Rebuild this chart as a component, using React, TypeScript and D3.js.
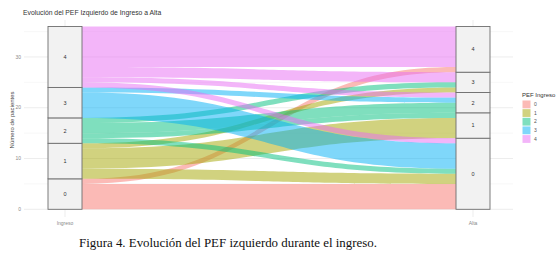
import React from "react";
import * as d3 from "d3";

const axes = ["Ingreso", "Alta"];
const levels = ["0", "1", "2", "3", "4"];
const levelColors = ["#F8766D", "#A3A500", "#00BF7D", "#00B0F6", "#E76BF3"];
const flowFrom = [0, 0, 1, 1, 1, 2, 2, 2, 2, 3, 3, 4, 4, 4, 4];
const flowTo = [0, 4, 0, 1, 3, 0, 1, 2, 3, 0, 2, 0, 2, 3, 4];
const flowCount = [5, 1, 2, 4, 1, 1, 1, 2, 1, 5, 1, 1, 1, 2, 8];
const yTicks = [0, 10, 20, 30];
const yMinor = [5, 15, 25, 35];

const W = 559;
const H = 261;

export default function App() {
  const total = d3.sum(flowCount);
  const y = d3.scaleLinear().domain([0, 36]).range([209.3, 26.5]);
  const x = d3.scalePoint().domain(axes).range([65, 473]);
  const half = 17;
  const color = d3.scaleOrdinal<string, string>().domain(levels).range(levelColors);

  const idx = flowCount.map((_, i) => i);
  const leftPos: number[] = [];
  let acc = 0;
  [...idx]
    .sort((a, b) => flowFrom[a] - flowFrom[b] || flowTo[a] - flowTo[b])
    .forEach((i) => {
      leftPos[i] = acc;
      acc += flowCount[i];
    });
  const rightPos: number[] = [];
  acc = 0;
  [...idx]
    .sort((a, b) => flowTo[a] - flowTo[b] || flowFrom[a] - flowFrom[b])
    .forEach((i) => {
      rightPos[i] = acc;
      acc += flowCount[i];
    });

  const leftTotals = levels.map((_, l) => d3.sum(idx.filter((i) => flowFrom[i] === l), (i) => flowCount[i]));
  const rightTotals = levels.map((_, l) => d3.sum(idx.filter((i) => flowTo[i] === l), (i) => flowCount[i]));
  const strata = (totals: number[], ax: string) => {
    let c = 0;
    return totals.map((t, l) => {
      const s = { ax, l, y0: c, y1: c + t };
      c += t;
      return s;
    });
  };
  const allStrata = [...strata(leftTotals, axes[0]), ...strata(rightTotals, axes[1])];

  const x0 = (x(axes[0]) as number) + half;
  const x1 = (x(axes[1]) as number) - half;
  const xm = (x0 + x1) / 2;
  const flowPath = (i: number) => {
    const a0 = y(leftPos[i]);
    const a1 = y(leftPos[i] + flowCount[i]);
    const b0 = y(rightPos[i]);
    const b1 = y(rightPos[i] + flowCount[i]);
    const p = d3.path();
    p.moveTo(x0, a1);
    p.bezierCurveTo(xm, a1, xm, b1, x1, b1);
    p.lineTo(x1, b0);
    p.bezierCurveTo(xm, b0, xm, a0, x0, a0);
    p.closePath();
    return p.toString();
  };

  const panelL = 24;
  const panelR = 513;
  const panelT = 20;
  const panelB = 217;

  return (
    <svg width={W} height={H} style={{ position: "absolute", left: 0, top: 0, background: "#fff" }}
      fontFamily="Liberation Sans, Arial, sans-serif">
      <rect x={0} y={0} width={W} height={H} fill="#fff" />
      {yMinor.map((t) => (
        <line key={"m" + t} x1={panelL} x2={panelR} y1={y(t)} y2={y(t)} stroke="#F2F2F2" strokeWidth={0.6} />
      ))}
      {yTicks.map((t) => (
        <line key={"g" + t} x1={panelL} x2={panelR} y1={y(t)} y2={y(t)} stroke="#EBEBEB" strokeWidth={0.9} />
      ))}
      {axes.map((a) => (
        <line key={"v" + a} x1={x(a)} x2={x(a)} y1={panelT} y2={panelB} stroke="#EBEBEB" strokeWidth={0.9} />
      ))}
      {idx.map((i) => (
        <path key={"f" + i} d={flowPath(i)} fill={color(levels[flowFrom[i]])} fillOpacity={0.5} stroke="none" />
      ))}
      {allStrata.map((s) => (
        <g key={s.ax + s.l}>
          <rect x={(x(s.ax) as number) - half} y={y(s.y1)} width={half * 2} height={y(s.y0) - y(s.y1)}
            fill="#F2F2F2" stroke="#6E6E6E" strokeWidth={0.9} />
          <text x={x(s.ax)} y={(y(s.y0) + y(s.y1)) / 2} dy="0.35em" textAnchor="middle" fontSize={5.5} fill="#333">
            {levels[s.l]}
          </text>
        </g>
      ))}
      {yTicks.map((t) => (
        <text key={"t" + t} x={21} y={y(t)} dy="0.35em" textAnchor="end" fontSize={5} fill="#8A8A8A">{t}</text>
      ))}
      {axes.map((a) => (
        <text key={"xl" + a} x={x(a)} y={224.5} textAnchor="middle" fontSize={5} fill="#8A8A8A">{a}</text>
      ))}
      <text transform={`translate(13.5, ${(y(0) + y(total)) / 2 + 2}) rotate(-90)`} textAnchor="middle" fontSize={6} fill="#444">
        Número de pacientes
      </text>
      <text x={23} y={15} fontSize={6.8} fill="#333">Evolución del PEF Izquierdo de Ingreso a Alta</text>
      <text x={522} y={97} fontSize={6} fill="#333">PEF Ingreso</text>
      {levels.map((l, k) => (
        <g key={"lg" + l}>
          <rect x={522.5} y={100.5 + k * 8.65} width={8} height={7.8} fill={color(l)} fillOpacity={0.5} />
          <text x={534} y={100.5 + k * 8.65 + 3.9} dy="0.35em" fontSize={5} fill="#555">{l}</text>
        </g>
      ))}
      <text x={79} y={247} fontFamily="Liberation Serif, Times New Roman, serif" fontSize={12.9} fill="#111">
        Figura 4. Evolución del PEF izquierdo durante el ingreso.
      </text>
    </svg>
  );
}
